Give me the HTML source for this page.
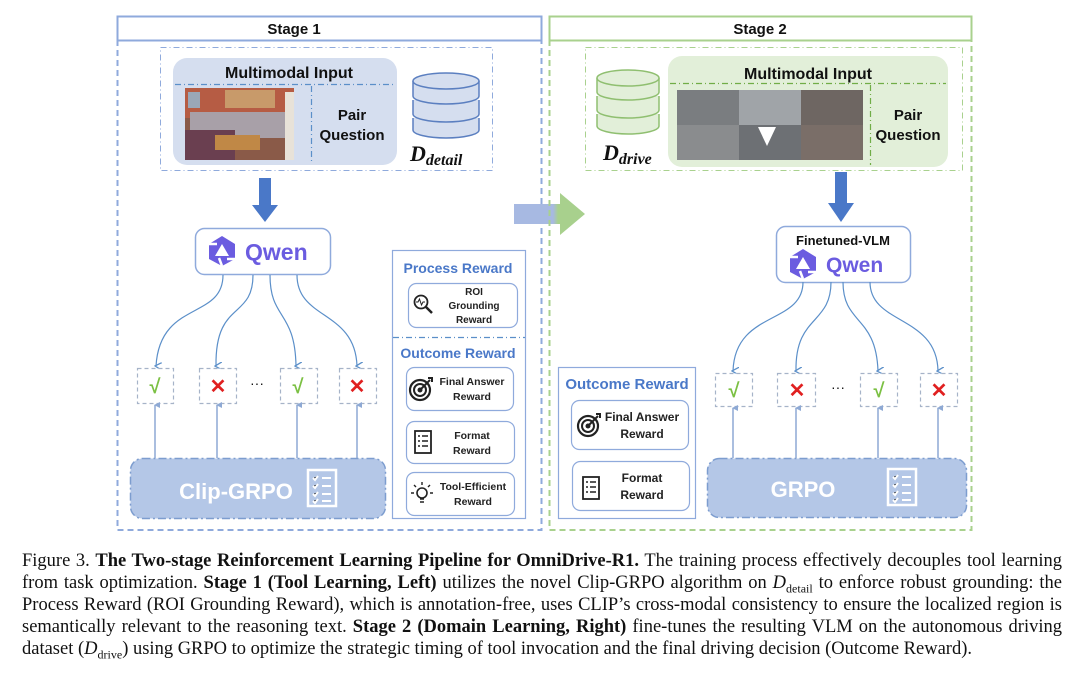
<!DOCTYPE html>
<html><head><meta charset="utf-8"><style>
html,body{margin:0;padding:0;background:#fff;width:1080px;height:685px;overflow:hidden}
svg text{font-family:"Liberation Sans",sans-serif}
.cap{position:absolute;left:22px;width:1040px;font-family:"Liberation Serif",serif;font-size:18.5px;color:#111;line-height:22px;white-space:nowrap;text-align:justify;text-align-last:justify}
</style></head><body>
<svg width="1080" height="545" style="position:absolute;left:0;top:0" xmlns="http://www.w3.org/2000/svg">
<defs>
<linearGradient id="ga" x1="0" x2="1"><stop offset="0" stop-color="#a7b9e2"/><stop offset="0.55" stop-color="#a7b9e2"/><stop offset="0.62" stop-color="#a8d08d"/><stop offset="1" stop-color="#a8d08d"/></linearGradient>
<marker id="ah" markerWidth="8" markerHeight="8" refX="4" refY="6" orient="auto" markerUnits="userSpaceOnUse"><path d="M0,0 L4,7 L8,0" fill="none" stroke="#5b8fc9" stroke-width="1.3"/></marker>
<marker id="au" markerWidth="8" markerHeight="8" refX="4" refY="1" orient="auto" markerUnits="userSpaceOnUse"><path d="M1,6 L4,0 L7,6 Z" fill="#8ea9d4"/></marker>
<g id="qlogo"><polygon points="0,-15 13,-7 13,8 0,15 -13,8 -13,-7" fill="#6b5ce0"/><polygon points="0,-7 7,5 -7,5" fill="#fff"/><path d="M-13,-7 L-5,-7 M13,8 L5,8 M0,15 L-3,7" stroke="#fff" stroke-width="2.5"/></g>
<g id="list"><rect x="0" y="0" width="28" height="36" fill="none" stroke="#fff" stroke-width="2.5"/><g stroke="#fff" stroke-width="2"><path d="M5,8 l2,2 l3,-4 M14,8 h9 M5,16 l2,2 l3,-4 M14,16 h9 M5,24 l2,2 l3,-4 M14,24 h9 M5,31 l2,2 l3,-4 M14,31 h9"/></g></g>
<g id="target"><circle cx="0" cy="0" r="10" fill="none" stroke="#222" stroke-width="2.2"/><circle cx="0" cy="0" r="6" fill="none" stroke="#222" stroke-width="2"/><circle cx="0" cy="0" r="2.5" fill="#222"/><path d="M0,0 L10,-10 M8,-12 l4,0 l0,4" stroke="#222" stroke-width="2" fill="none"/></g>
<g id="doc"><rect x="-8" y="-11" width="16" height="22" fill="none" stroke="#222" stroke-width="1.8"/><path d="M-5,-6 h2 M-1,-6 h6 M-5,-1 h2 M-1,-1 h6 M-5,4 h2 M-1,4 h6" stroke="#222" stroke-width="1.6"/></g>
</defs>

<rect x="117.5" y="16.5" width="424" height="24" fill="#fff" stroke="#8faadc" stroke-width="2"/>
<text x="294" y="34" font-size="15" font-weight="bold" text-anchor="middle" fill="#111">Stage 1</text>
<path d="M117.5,40 V530 H541.5 V40" fill="none" stroke="#8faadc" stroke-width="2" stroke-dasharray="6,4"/>
<rect x="160.5" y="47.5" width="332" height="123" fill="none" stroke="#8faadc" stroke-width="1" stroke-dasharray="6,3,1,3"/>
<rect x="173" y="58" width="224" height="107" rx="14" fill="#d5deef"/>
<text x="289" y="78" font-size="16" font-weight="bold" text-anchor="middle" fill="#111">Multimodal Input</text>
<line x1="175" y1="84.5" x2="395" y2="84.5" stroke="#5b8fc9" stroke-width="1.2" stroke-dasharray="6,3,1,3"/>
<line x1="311.5" y1="86" x2="311.5" y2="163" stroke="#5b8fc9" stroke-width="1.2" stroke-dasharray="6,3,1,3"/>
<rect x="185" y="88" width="109" height="72" fill="#8a5a48"/>
<rect x="185" y="88" width="109" height="30" fill="#b65c44"/>
<rect x="225" y="90" width="50" height="18" fill="#c89a6a"/>
<rect x="188" y="92" width="12" height="16" fill="#9aa7b8"/>
<rect x="190" y="112" width="95" height="26" fill="#a8a0a8"/>
<rect x="185" y="130" width="50" height="30" fill="#6a3f50"/>
<rect x="215" y="135" width="45" height="15" fill="#c08846"/>
<rect x="285" y="92" width="9" height="68" fill="#e8e2d8"/>
<text x="352" y="120" font-size="15" font-weight="bold" text-anchor="middle" fill="#111">Pair</text>
<text x="352" y="140" font-size="15" font-weight="bold" text-anchor="middle" fill="#111">Question</text>
<g fill="#d5deef" stroke="#5b7fc0" stroke-width="1.5">
<path d="M413,118 v12 a33,8 0 0 0 66,0 v-12"/>
<path d="M413,100 v14 a33,8 0 0 0 66,0 v-14"/>
<path d="M413,81 v15 a33,8 0 0 0 66,0 v-15"/>
<ellipse cx="446" cy="81" rx="33" ry="8" fill="#d5deef"/>
</g>
<text x="410" y="161" font-size="22" font-weight="bold" font-style="italic" fill="#111" style="font-family:'Liberation Serif',serif">D<tspan font-size="16" dy="4">detail</tspan></text>
<rect x="259" y="178" width="12" height="28" fill="#4a78c8"/>
<polygon points="252,205 278,205 265,222" fill="#4a78c8"/>
<rect x="195.5" y="228.5" width="135" height="46" rx="9" fill="#fff" stroke="#8faadc" stroke-width="1.5"/>
<use href="#qlogo" x="222" y="251"/>
<text x="245" y="260" font-size="23" font-weight="600" fill="#6b5ce0">Qwen</text>
<g fill="none" stroke="#5b8fc9" stroke-width="1.2" marker-end="url(#ah)">
<path d="M223,275 C223,320 160,300 156,366"/>
<path d="M253,275 C253,320 215,300 216,366"/>
<path d="M270,275 C270,320 295,310 296,366"/>
<path d="M297,275 C297,320 355,310 357,366"/>
</g>
<g fill="#fff" stroke="#a6b3c8" stroke-width="1.2" stroke-dasharray="4,3">
<rect x="137.5" y="368.5" width="36" height="35"/><rect x="199.5" y="368.5" width="37" height="35"/><rect x="280.5" y="368.5" width="37" height="35"/><rect x="339.5" y="368.5" width="37" height="35"/>
</g>
<g font-size="20" font-weight="bold" text-anchor="middle">
<text x="155" y="393" fill="#7bc043">√</text><text x="218" y="393" fill="#e02020">✕</text><text x="298" y="393" fill="#7bc043">√</text><text x="357" y="393" fill="#e02020">✕</text>
</g>
<text x="257" y="388" font-size="14" text-anchor="middle" fill="#111">···</text>
<g stroke="#8ea9d4" stroke-width="1.5" marker-end="url(#au)"><path d="M155,458 V405"/><path d="M217,458 V405"/><path d="M297,458 V405"/><path d="M357,458 V405"/></g>
<rect x="130.5" y="458.5" width="255" height="60" rx="12" fill="#b4c7e7" stroke="#7d9dcf" stroke-width="1.5" stroke-dasharray="8,3,2,3"/>
<text x="236" y="499" font-size="22" font-weight="bold" text-anchor="middle" fill="#fff">Clip-GRPO</text>
<use href="#list" x="308" y="470"/>
<rect x="392.5" y="250.5" width="133" height="268" fill="#fff" stroke="#8faadc" stroke-width="1.2"/>
<text x="458" y="273" font-size="14" font-weight="bold" text-anchor="middle" fill="#4a78c8">Process Reward</text>
<rect x="408.5" y="283.5" width="109" height="44" rx="8" fill="#fff" stroke="#8faadc" stroke-width="1.2"/>
<circle cx="421" cy="302" r="6.5" fill="none" stroke="#222" stroke-width="1.8"/><path d="M426,307 l6,6" stroke="#222" stroke-width="2.5"/><path d="M416,302 h2 l1.5,-3 l2,6 l1.5,-3 h2" stroke="#222" stroke-width="1" fill="none"/>
<g font-size="10" font-weight="bold" text-anchor="middle" fill="#222"><text x="474" y="295">ROI</text><text x="474" y="309">Grounding</text><text x="474" y="323">Reward</text></g>
<line x1="393" y1="337.5" x2="525" y2="337.5" stroke="#5b8fc9" stroke-width="1.2" stroke-dasharray="6,3,1,3"/>
<text x="458" y="358" font-size="14" font-weight="bold" text-anchor="middle" fill="#4a78c8">Outcome Reward</text>
<rect x="406.5" y="367.5" width="107" height="43" rx="8" fill="#fff" stroke="#8faadc" stroke-width="1.2"/>
<use href="#target" x="420" y="390"/>
<g font-size="10.5" font-weight="bold" text-anchor="middle" fill="#222"><text x="472" y="385">Final Answer</text><text x="472" y="400">Reward</text></g>
<rect x="406.5" y="421.5" width="108" height="42" rx="8" fill="#fff" stroke="#8faadc" stroke-width="1.2"/>
<use href="#doc" x="423" y="442"/>
<g font-size="10.5" font-weight="bold" text-anchor="middle" fill="#222"><text x="472" y="439">Format</text><text x="472" y="454">Reward</text></g>
<rect x="406.5" y="472.5" width="108" height="43" rx="8" fill="#fff" stroke="#8faadc" stroke-width="1.2"/>
<circle cx="422" cy="493" r="5" fill="none" stroke="#222" stroke-width="1.6"/><path d="M420,499 h4 M420,502 h4 M414,493 h-3 M430,493 h3 M422,485 v-3 M416,487 l-2,-2 M428,487 l2,-2" stroke="#222" stroke-width="1.4"/>
<g font-size="10.5" font-weight="bold" text-anchor="middle" fill="#222"><text x="473" y="490">Tool-Efficient</text><text x="473" y="505">Reward</text></g>

<path d="M514,204 H560 V193 L585,214 L560,235 V224 H514 Z" fill="url(#ga)"/>

<rect x="549.5" y="16.5" width="422" height="24" fill="#fff" stroke="#a9d18e" stroke-width="2"/>
<text x="760" y="34" font-size="15" font-weight="bold" text-anchor="middle" fill="#111">Stage 2</text>
<path d="M549.5,40 V530 H971.5 V40" fill="none" stroke="#a9d18e" stroke-width="2" stroke-dasharray="6,4"/>
<rect x="585.5" y="47.5" width="377" height="123" fill="none" stroke="#a9d18e" stroke-width="1" stroke-dasharray="6,3,1,3"/>
<g fill="#e2efd9" stroke="#8fbf70" stroke-width="1.5">
<path d="M597,114 v12 a31,8 0 0 0 62,0 v-12"/>
<path d="M597,96 v14 a31,8 0 0 0 62,0 v-14"/>
<path d="M597,78 v14 a31,8 0 0 0 62,0 v-14"/>
<ellipse cx="628" cy="78" rx="31" ry="8"/>
</g>
<text x="603" y="160" font-size="22" font-weight="bold" font-style="italic" fill="#111" style="font-family:'Liberation Serif',serif">D<tspan font-size="16" dy="4">drive</tspan></text>
<rect x="668" y="56" width="280" height="111" rx="14" fill="#e2efd9"/>
<text x="808" y="79" font-size="16" font-weight="bold" text-anchor="middle" fill="#111">Multimodal Input</text>
<line x1="670" y1="83.5" x2="946" y2="83.5" stroke="#70ad47" stroke-width="1.2" stroke-dasharray="6,3,1,3"/>
<line x1="870.5" y1="85" x2="870.5" y2="165" stroke="#70ad47" stroke-width="1.2" stroke-dasharray="6,3,1,3"/>
<rect x="677" y="90" width="186" height="70" fill="#6e7276"/>
<rect x="677" y="90" width="62" height="35" fill="#7a7d80"/><rect x="739" y="90" width="62" height="35" fill="#a0a4a8"/><rect x="801" y="90" width="62" height="35" fill="#6e6662"/>
<rect x="677" y="125" width="62" height="35" fill="#8a8c8e"/><rect x="739" y="125" width="62" height="35" fill="#6d7074"/><rect x="801" y="125" width="62" height="35" fill="#7a6e68"/>
<polygon points="758,127 776,127 767,146" fill="#fff"/>
<text x="908" y="120" font-size="15" font-weight="bold" text-anchor="middle" fill="#111">Pair</text>
<text x="908" y="140" font-size="15" font-weight="bold" text-anchor="middle" fill="#111">Question</text>
<rect x="835" y="172" width="12" height="32" fill="#4a78c8"/>
<polygon points="828,203 854,203 841,222" fill="#4a78c8"/>
<rect x="776.5" y="226.5" width="134" height="56" rx="9" fill="#fff" stroke="#8faadc" stroke-width="1.5"/>
<text x="843" y="245" font-size="13" font-weight="bold" text-anchor="middle" fill="#111">Finetuned-VLM</text>
<use href="#qlogo" x="803" y="264"/>
<text x="826" y="272" font-size="21" font-weight="600" fill="#6b5ce0">Qwen</text>
<g fill="none" stroke="#5b8fc9" stroke-width="1.2" marker-end="url(#ah)">
<path d="M803,282 C803,325 735,310 733,371"/>
<path d="M831,282 C831,325 795,315 796,371"/>
<path d="M843,282 C843,325 876,315 878,371"/>
<path d="M870,282 C870,325 937,315 938,371"/>
</g>
<g fill="#fff" stroke="#a6b3c8" stroke-width="1.2" stroke-dasharray="4,3">
<rect x="715.5" y="373.5" width="37" height="33"/><rect x="777.5" y="373.5" width="38" height="33"/><rect x="860.5" y="373.5" width="37" height="33"/><rect x="920.5" y="373.5" width="37" height="33"/>
</g>
<g font-size="20" font-weight="bold" text-anchor="middle">
<text x="734" y="397" fill="#7bc043">√</text><text x="797" y="397" fill="#e02020">✕</text><text x="879" y="397" fill="#7bc043">√</text><text x="939" y="397" fill="#e02020">✕</text>
</g>
<text x="838" y="392" font-size="14" text-anchor="middle" fill="#111">···</text>
<g stroke="#8ea9d4" stroke-width="1.5" marker-end="url(#au)"><path d="M733,458 V408"/><path d="M796,458 V408"/><path d="M878,458 V408"/><path d="M938,458 V408"/></g>
<rect x="707.5" y="458.5" width="259" height="59" rx="12" fill="#b4c7e7" stroke="#7d9dcf" stroke-width="1.5" stroke-dasharray="8,3,2,3"/>
<text x="803" y="497" font-size="22" font-weight="bold" text-anchor="middle" fill="#fff">GRPO</text>
<use href="#list" x="888" y="469"/>
<rect x="558.5" y="367.5" width="137" height="151" fill="#fff" stroke="#8faadc" stroke-width="1.2"/>
<text x="627" y="389" font-size="15" font-weight="bold" text-anchor="middle" fill="#4a78c8">Outcome Reward</text>
<rect x="571.5" y="400.5" width="117" height="49" rx="8" fill="#fff" stroke="#8faadc" stroke-width="1.2"/>
<use href="#target" x="588" y="426"/>
<g font-size="12" font-weight="bold" text-anchor="middle" fill="#222"><text x="642" y="421">Final Answer</text><text x="642" y="438">Reward</text></g>
<rect x="572.5" y="461.5" width="117" height="49" rx="8" fill="#fff" stroke="#8faadc" stroke-width="1.2"/>
<use href="#doc" x="591" y="488"/>
<g font-size="12" font-weight="bold" text-anchor="middle" fill="#222"><text x="642" y="482">Format</text><text x="642" y="499">Reward</text></g>
</svg>
<div class="cap" style="top:550px">Figure 3. <b>The Two-stage Reinforcement Learning Pipeline for OmniDrive-R1.</b> The training process effectively decouples tool learning</div>
<div class="cap" style="top:572px">from task optimization. <b>Stage 1 (Tool Learning, Left)</b> utilizes the novel Clip-GRPO algorithm on <i>D</i><sub style="font-size:12px">detail</sub> to enforce robust grounding: the</div>
<div class="cap" style="top:594px">Process Reward (ROI Grounding Reward), which is annotation-free, uses CLIP’s cross-modal consistency to ensure the localized region is</div>
<div class="cap" style="top:616px">semantically relevant to the reasoning text. <b>Stage 2 (Domain Learning, Right)</b> fine-tunes the resulting VLM on the autonomous driving</div>
<div class="cap" style="top:638px;text-align-last:left;text-align:left">dataset (<i>D</i><sub style="font-size:12px">drive</sub>) using GRPO to optimize the strategic timing of tool invocation and the final driving decision (Outcome Reward).</div>
</body></html>
